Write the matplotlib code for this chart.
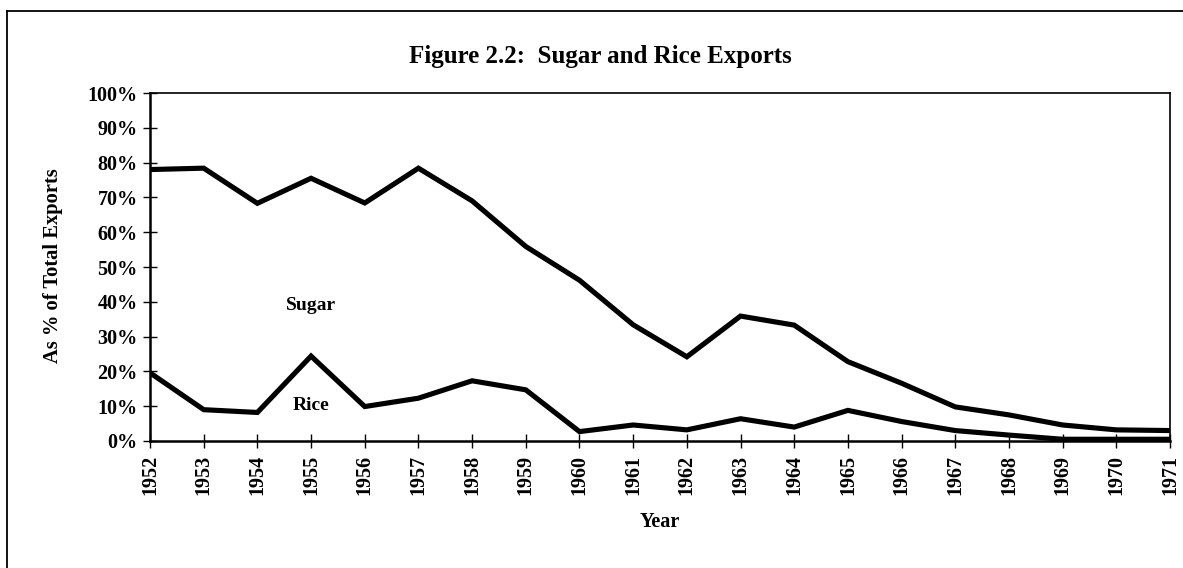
import matplotlib
matplotlib.use("Agg")
import matplotlib.pyplot as plt
from matplotlib.lines import Line2D
from matplotlib.ticker import FuncFormatter

years = list(range(1952, 1972))
sugar = [78.0, 78.4, 68.3, 75.5, 68.4, 78.4, 69.0, 55.9, 46.2, 33.4,
         24.2, 35.9, 33.3, 22.8, 16.6, 9.8, 7.5, 4.6, 3.2, 3.0]
rice = [19.6, 9.0, 8.2, 24.4, 9.9, 12.3, 17.3, 14.7, 2.7, 4.6,
        3.2, 6.4, 4.0, 8.8, 5.6, 3.0, 1.7, 0.5, 0.5, 0.5]
yticks = list(range(0, 101, 10))
title = "Figure 2.2:  Sugar and Rice Exports"
ylabel = "As % of Total Exports"
xlabel = "Year"

W, H = 1183, 568
fig = plt.figure(figsize=(W / 100, H / 100), dpi=100)
fig.patch.set_facecolor("white")

serif = ["Liberation Serif", "DejaVu Serif"]

ax = fig.add_axes([150 / W, 1 - 441 / H, (1170 - 150) / W, (441 - 93) / H])
ax.plot(years, sugar, color="black", lw=3.7, solid_joinstyle="miter")
ax.plot(years, rice, color="black", lw=3.7, solid_joinstyle="miter")

ax.set_xlim(years[0], years[-1])
ax.set_ylim(0, 100)
ax.set_xticks(years)
ax.set_xticklabels([str(y) for y in years], rotation=90, family=serif,
                   fontsize=14.5, fontweight="bold")
ax.set_yticks(yticks)
ax.yaxis.set_major_formatter(FuncFormatter(lambda v, p: f"{int(v)}%"))
for lab in ax.get_yticklabels():
    lab.set_family(serif)
    lab.set_fontweight("bold")
    lab.set_fontsize(14.5)

ax.tick_params(axis="both", direction="inout", length=9.5, width=1.0,
               color="black")
ax.tick_params(axis="x", pad=5)
ax.tick_params(axis="y", pad=4)
for s in ax.spines.values():
    s.set_linewidth(1.2)
ax.spines["left"].set_linewidth(1.8)
ax.spines["bottom"].set_linewidth(1.8)

ax.text(1955, 39, "Sugar", ha="center", va="center", family=serif,
        fontweight="bold", fontsize=14)
ax.text(1955, 10.3, "Rice", ha="center", va="center", family=serif,
        fontweight="bold", fontsize=14)

fig.text(600 / W, 1 - 57 / H, title, ha="center", va="center", family=serif,
         fontweight="bold", fontsize=18)
fig.text(53 / W, 1 - 266 / H, ylabel, ha="center", va="center", rotation=90,
         family=serif, fontweight="bold", fontsize=14.8)
fig.text(660 / W, 1 - 522 / H, xlabel, ha="center", va="center",
         family=serif, fontweight="bold", fontsize=14.5)

# outer frame (only top and left edges visible)
fig.add_artist(Line2D([7 / W, 7 / W], [0, 1 - 11 / H], color="black", lw=1.3,
                      transform=fig.transFigure))
fig.add_artist(Line2D([7 / W, 1], [1 - 11 / H, 1 - 11 / H], color="black",
                      lw=1.3, transform=fig.transFigure))

fig.savefig("out.png", dpi=100, facecolor="white")
